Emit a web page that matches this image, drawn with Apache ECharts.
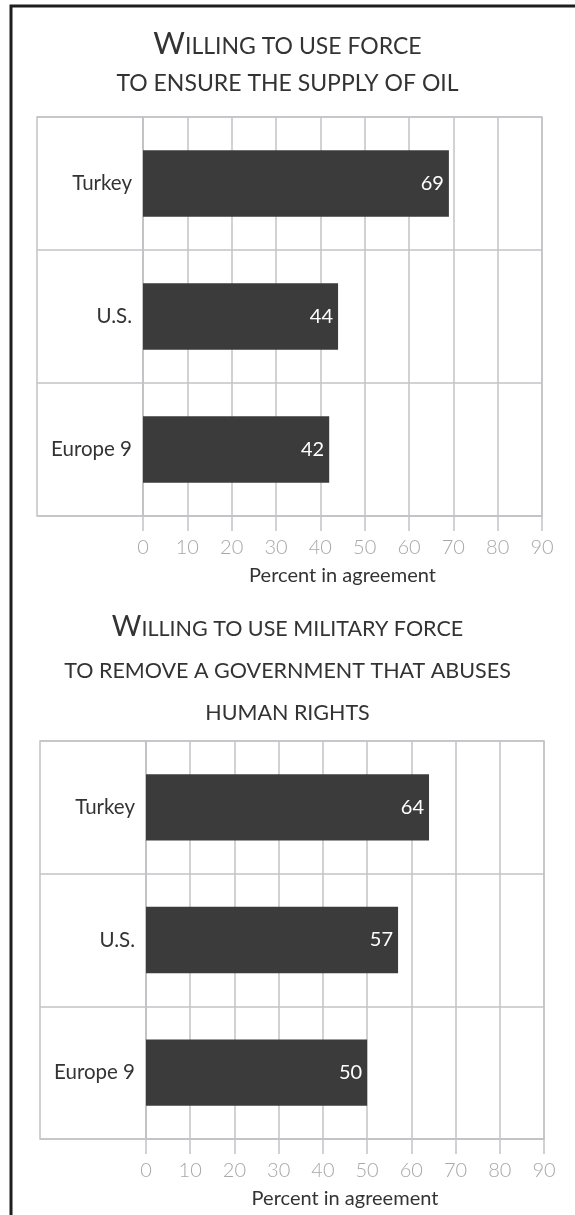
<!DOCTYPE html>
<html>
<head>
<meta charset="utf-8">
<script src="https://cdn.jsdelivr.net/npm/echarts@6/dist/echarts.min.js"></script>
<style>
  html, body { margin: 0; padding: 0; background: #fff; }
  #chart { width: 575px; height: 1215px; }
</style>
</head>
<body>
<div id="chart"></div>
<script>
// ---- data ----
const categories = ['Turkey', 'U.S.', 'Europe 9'];
const oilValues = [69, 44, 42];
const rightsValues = [64, 57, 50];
const axisMin = 0;
const axisMax = 90;
const axisStep = 10;
const axisName = 'Percent in agreement';
const title1Lines = ['W', 'ILLING TO USE FORCE', 'TO ENSURE THE SUPPLY OF OIL'];
const title2Lines = ['W', 'ILLING TO USE MILITARY FORCE', 'TO REMOVE A GOVERNMENT THAT ABUSES', 'HUMAN RIGHTS'];

// ---- styles ----
const FONT = 'Lato';
const GRID_COLOR = '#c3c3c7';
const BAR_COLOR = '#3b3b3b';
const TEXT_COLOR = '#333333';
const TICK_COLOR = '#a8a8a8';

const chart = echarts.init(document.getElementById('chart'), null, { renderer: 'canvas' });

function titleText(lines) {
  let s = '{big|' + lines[0] + '}{sc|' + lines[1] + '}';
  for (let i = 2; i < lines.length; i++) s += '\n{sc|' + lines[i] + '}';
  return s;
}
function titleRich(lh, size) {
  return {
    big: { fontFamily: FONT, fontSize: size * 1.33, fontWeight: 'normal', color: TEXT_COLOR, lineHeight: lh, padding: [0, 0, 4, 0] },
    sc: { fontFamily: FONT, fontSize: size, fontWeight: 'normal', color: TEXT_COLOR, lineHeight: lh }
  };
}

const layouts = [
  { main: { left: 143, right: 33, top: 117, bottom: 699 }, label: { left: 37, width: 106, top: 117, bottom: 699 } },
  { main: { left: 146, right: 31, top: 741, bottom: 76 }, label: { left: 40, width: 106, top: 741, bottom: 76 } }
];

const grids = [];
const xAxes = [];
const yAxes = [];
const series = [];
[oilValues, rightsValues].forEach((vals, k) => {
  const L = layouts[k];
  const mainIdx = grids.length;
  grids.push(Object.assign({ show: true, borderColor: GRID_COLOR, borderWidth: 1.5, containLabel: false }, L.main));
  const labIdx = grids.length;
  grids.push(Object.assign({ show: true, borderColor: GRID_COLOR, borderWidth: 1.5, containLabel: false }, L.label));

  xAxes.push({
    type: 'value', gridIndex: mainIdx, min: axisMin, max: axisMax, interval: axisStep,
    axisLine: { show: true, lineStyle: { color: GRID_COLOR, width: 1.5 } },
    axisTick: { show: true, length: 15, lineStyle: { color: GRID_COLOR, width: 1.5 } },
    splitLine: { show: true, lineStyle: { color: GRID_COLOR, width: 1.5 } },
    axisLabel: { color: TICK_COLOR, fontFamily: FONT, fontWeight: 300, fontSize: 20, margin: 22 },
    name: axisName, nameLocation: 'middle', nameGap: 50,
    nameTextStyle: { color: TEXT_COLOR, fontFamily: FONT, fontSize: 20 }
  });
  xAxes.push({ type: 'value', gridIndex: labIdx, min: 0, max: 1, show: false });

  yAxes.push({
    type: 'category', gridIndex: mainIdx, data: categories, inverse: true,
    axisLine: { show: true, lineStyle: { color: GRID_COLOR, width: 1.5 } },
    axisTick: { show: false },
    splitLine: { show: true, lineStyle: { color: GRID_COLOR, width: 1.5 } },
    axisLabel: { color: TEXT_COLOR, fontFamily: FONT, fontSize: 20.5, margin: 11 }
  });
  yAxes.push({
    type: 'category', gridIndex: labIdx, data: categories, inverse: true,
    axisLine: { show: false }, axisTick: { show: false }, axisLabel: { show: false },
    splitLine: { show: true, lineStyle: { color: GRID_COLOR, width: 1.5 } }
  });

  series.push({
    type: 'bar', xAxisIndex: xAxes.length - 2, yAxisIndex: yAxes.length - 2,
    data: vals, barWidth: '50%',
    itemStyle: { color: BAR_COLOR },
    label: { show: true, position: 'insideRight', distance: 5, color: '#ffffff', fontFamily: FONT, fontSize: 20 },
    silent: true
  });
});

chart.setOption({
  animation: false,
  backgroundColor: '#ffffff',
  title: [
    { text: titleText(title1Lines), left: 'center', top: 28, padding: 0, textStyle: { fontWeight: 'normal', rich: titleRich(37, 23) } },
    { text: titleText(title2Lines), left: 'center', top: 608, padding: 0, textStyle: { fontWeight: 'normal', rich: titleRich(42, 21.5) } }
  ],
  grid: grids,
  xAxis: xAxes,
  yAxis: yAxes,
  series: series,
  graphic: [{
    type: 'polyline', silent: true,
    shape: { points: [[11, 1220], [11, 6], [580, 6]] },
    style: { stroke: '#1e1e1e', lineWidth: 3, fill: null }
  }]
});
</script>
</body>
</html>
